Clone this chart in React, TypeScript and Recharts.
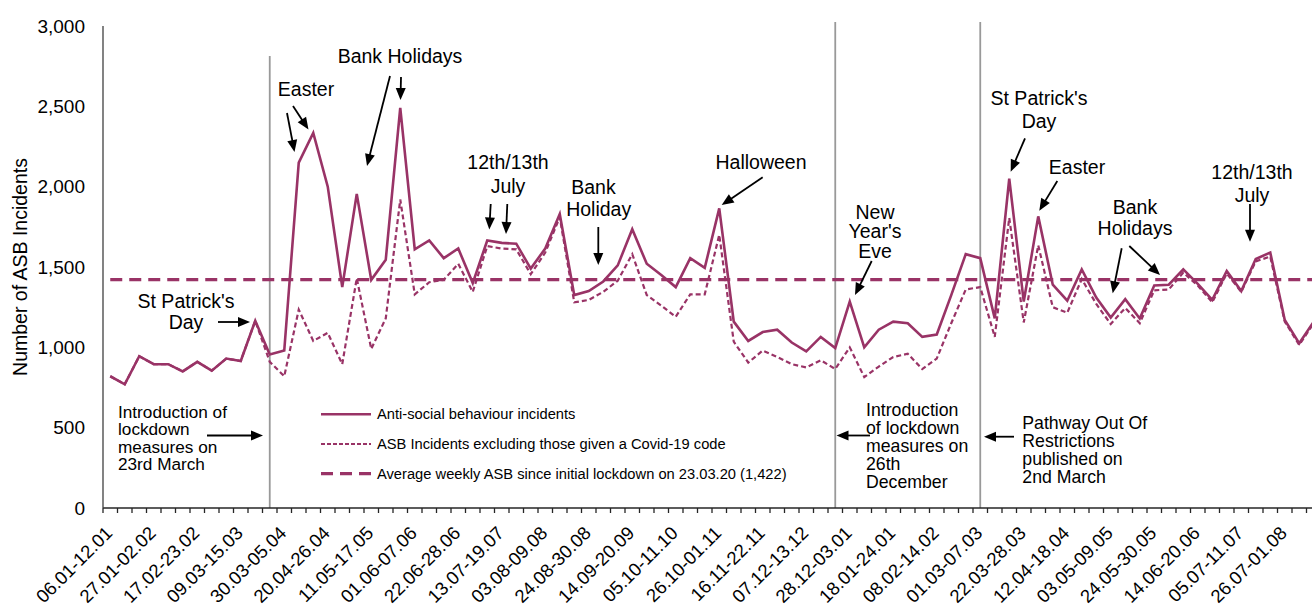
import React from 'react';
import { LineChart, Line, XAxis, YAxis, ReferenceLine, Legend } from 'recharts';

// weekly periods, 06.01.2020 to 15.08.2021
const WEEKS = [
  '06.01-12.01', '13.01-19.01', '20.01-26.01', '27.01-02.02', '03.02-09.02', '10.02-16.02',
  '17.02-23.02', '24.02-01.03', '02.03-08.03', '09.03-15.03', '16.03-22.03', '23.03-29.03',
  '30.03-05.04', '06.04-12.04', '13.04-19.04', '20.04-26.04', '27.04-03.05', '04.05-10.05',
  '11.05-17.05', '18.05-24.05', '25.05-31.05', '01.06-07.06', '08.06-14.06', '15.06-21.06',
  '22.06-28.06', '29.06-05.07', '06.07-12.07', '13.07-19.07', '20.07-26.07', '27.07-02.08',
  '03.08-09.08', '10.08-16.08', '17.08-23.08', '24.08-30.08', '31.08-06.09', '07.09-13.09',
  '14.09-20.09', '21.09-27.09', '28.09-04.10', '05.10-11.10', '12.10-18.10', '19.10-25.10',
  '26.10-01.11', '02.11-08.11', '09.11-15.11', '16.11-22.11', '23.11-29.11', '30.11-06.12',
  '07.12-13.12', '14.12-20.12', '21.12-27.12', '28.12-03.01', '04.01-10.01', '11.01-17.01',
  '18.01-24.01', '25.01-31.01', '01.02-07.02', '08.02-14.02', '15.02-21.02', '22.02-28.02',
  '01.03-07.03', '08.03-14.03', '15.03-21.03', '22.03-28.03', '29.03-04.04', '05.04-11.04',
  '12.04-18.04', '19.04-25.04', '26.04-02.05', '03.05-09.05', '10.05-16.05', '17.05-23.05',
  '24.05-30.05', '31.05-06.06', '07.06-13.06', '14.06-20.06', '21.06-27.06', '28.06-04.07',
  '05.07-11.07', '12.07-18.07', '19.07-25.07', '26.07-01.08', '02.08-08.08', '09.08-15.08',
];

const ASB_INCIDENTS = [
  820, 770, 945, 895, 895, 850, 910, 855, 930, 915, 1165, 955,
  980, 2150, 2335, 2000, 1375, 1955, 1420, 1545, 2490, 1610, 1665, 1555,
  1615, 1400, 1665, 1650, 1645, 1490, 1615, 1830, 1325, 1350, 1410, 1510,
  1735, 1520, 1450, 1375, 1555, 1495, 1865, 1160, 1040, 1095, 1110, 1030,
  975, 1065, 995, 1285, 1000, 1110, 1160, 1150, 1065, 1080, 1325, 1580,
  1555, 1180, 2050, 1285, 1815, 1390, 1290, 1485, 1310, 1185, 1300, 1180,
  1385, 1390, 1485, 1395, 1295, 1475, 1350, 1550, 1590, 1170, 1025, 1160,
];

const ASB_EXCL_COVID = [
  820, 770, 945, 895, 895, 850, 910, 855, 930, 915, 1165, 910,
  820, 1235, 1040, 1090, 895, 1430, 990, 1180, 1920, 1330, 1405, 1420,
  1520, 1345, 1630, 1615, 1610, 1455, 1590, 1810, 1280, 1295, 1345, 1415,
  1580, 1325, 1260, 1190, 1330, 1330, 1700, 1035, 905, 980, 940, 895,
  875, 920, 865, 1000, 815, 880, 940, 960, 865, 930, 1150, 1360,
  1375, 1065, 1805, 1155, 1635, 1250, 1215, 1425, 1270, 1145, 1245, 1150,
  1355, 1360, 1465, 1385, 1280, 1460, 1345, 1535, 1565, 1160, 1015, 1150,
];

const AVERAGE_SINCE_LOCKDOWN = 1422;
const Y_TICKS = [0, 500, 1000, 1500, 2000, 2500, 3000];
// weeks with a vertical marker: lockdown 23 March, lockdown 26 December, pathway 2 March
const MARKER_WEEKS = ['23.03-29.03', '21.12-27.12', '01.03-07.03'];

const PLUM = '#993366';
const FONT = '"Liberation Sans", Arial, sans-serif';
const HALF_BAND = 7.25;

const rows = WEEKS.map((week, i) => ({
  week,
  asb: ASB_INCIDENTS[i],
  asbExCovid: ASB_EXCL_COVID[i],
}));

const WeekTick = ({ x, y, index, payload }: any) => {
  const tx = x - 6;
  const ty = y + 17;
  return (
    <g>
      <line x1={x - HALF_BAND} x2={x - HALF_BAND} y1={y} y2={y + 5} stroke="#262626" strokeWidth={1.3} />
      {index % 3 === 0 && (
        <text
          x={tx}
          y={ty}
          dy="0.71em"
          transform={`rotate(-45 ${tx} ${ty})`}
          textAnchor="end"
          fontSize={18.5}
          fontFamily={FONT}
          fill="#000"
        >
          {payload.value}
        </text>
      )}
    </g>
  );
};

const LEGEND_ROWS = [
  { label: 'Anti-social behaviour incidents', dash: undefined, width: 2.5 },
  { label: 'ASB Incidents excluding those given a Covid-19 code', dash: '4 2', width: 2 },
  { label: 'Average weekly ASB since initial lockdown on 23.03.20 (1,422)', dash: '12 7', width: 3.3 },
];

const LegendBox = () => (
  <svg width={520} height={92}>
    {LEGEND_ROWS.map((r, i) => {
      const y = 14.3 + i * 29.7;
      return (
        <g key={r.label}>
          <line x1={3} x2={53} y1={y} y2={y} stroke={PLUM} strokeWidth={r.width} strokeDasharray={r.dash} />
          <text x={59} y={y} dy="0.35em" fontSize={14.7} fontFamily={FONT} fill="#000">
            {r.label}
          </text>
        </g>
      );
    })}
  </svg>
);

type Note = {
  lines: string[];
  x: number;
  y: number;
  gap?: number;
  anchor?: 'start' | 'middle';
  size?: number;
  arrows: number[][];
};

const NOTES: Note[] = [
  { lines: ["St Patrick's", 'Day'], x: 186, y: 301, gap: 21, arrows: [[218, 322, 250, 322]] },
  {
    lines: ['Introduction of', 'lockdown', 'measures on', '23rd March'],
    x: 118, y: 411.5, gap: 17.5, anchor: 'start', size: 17.2,
    arrows: [[207, 435.5, 263, 435.5]],
  },
  { lines: ['Easter'], x: 306, y: 89, arrows: [[287, 113, 294.5, 152], [293, 106, 308.5, 129.5]] },
  { lines: ['Bank Holidays'], x: 400, y: 55.7, arrows: [[390, 76, 367, 166], [401, 77, 400.5, 100]] },
  {
    lines: ['12th/13th', 'July'], x: 508, y: 162.3, gap: 23.7,
    arrows: [[490.7, 204, 489.3, 229.5], [507.3, 204, 506, 234]],
  },
  { lines: ['Bank'], x: 593.5, y: 186.7, arrows: [] },
  { lines: ['Holiday'], x: 598.7, y: 209.3, arrows: [[598.3, 227, 598.3, 265]] },
  { lines: ['Halloween'], x: 761, y: 162.3, arrows: [[762.7, 177.3, 721.7, 205]] },
  {
    lines: ['New', "Year's", 'Eve'], x: 875, y: 211.7, gap: 19.7,
    arrows: [[871.7, 261, 855, 295]],
  },
  {
    lines: ['Introduction', 'of lockdown', 'measures on', '26th', 'December'],
    x: 866, y: 410, gap: 18, anchor: 'start', size: 17.7,
    arrows: [[870, 435.5, 836.5, 435.5]],
  },
  {
    lines: ['Pathway Out Of', 'Restrictions', 'published on', '2nd March'],
    x: 1022.3, y: 423.3, gap: 17.8, anchor: 'start', size: 17.7,
    arrows: [[1014, 436.7, 984, 436.7]],
  },
  { lines: ["St Patrick's", 'Day'], x: 1039, y: 98.3, gap: 22.7, arrows: [[1025, 138.3, 1010.7, 171.7]] },
  { lines: ['Easter'], x: 1077, y: 167.3, arrows: [[1057.3, 181, 1039.3, 210.7]] },
  {
    lines: ['Bank', 'Holidays'], x: 1135, y: 207.5, gap: 20.5,
    arrows: [[1121.7, 248.3, 1112.7, 293.3], [1129.3, 246, 1160, 275]],
  },
  { lines: ['12th/13th', 'July'], x: 1252, y: 171.7, gap: 23.3, arrows: [[1250, 204, 1250, 241.7]] },
];

const Arrow = ({ a }: { a: number[] }) => {
  const [x1, y1, x2, y2] = a;
  const len = Math.hypot(x2 - x1, y2 - y1);
  const ux = (x2 - x1) / len;
  const uy = (y2 - y1) / len;
  const head = 12;
  const half = 5;
  const bx = x2 - ux * head;
  const by = y2 - uy * head;
  const pts = `${x2},${y2} ${bx - uy * half},${by + ux * half} ${bx + uy * half},${by - ux * half}`;
  return (
    <g>
      <line x1={x1} y1={y1} x2={bx + ux * 2} y2={by + uy * 2} stroke="#000" strokeWidth={1.8} />
      <polygon points={pts} fill="#000" />
    </g>
  );
};

const Annotations = () => (
  <svg
    width={1312}
    height={608}
    style={{ position: 'absolute', left: 0, top: 0, pointerEvents: 'none' }}
  >
    {NOTES.map((n, i) => (
      <g key={i}>
        {n.lines.map((t, j) => (
          <text
            key={t}
            x={n.x}
            y={n.y + j * (n.gap ?? 20)}
            dy="0.35em"
            textAnchor={n.anchor ?? 'middle'}
            fontSize={n.size ?? 19.5}
            fontFamily={FONT}
            fill="#000"
          >
            {t}
          </text>
        ))}
        {n.arrows.map((a, k) => (
          <Arrow key={k} a={a} />
        ))}
      </g>
    ))}
  </svg>
);

export default function App() {
  return (
    <div
      style={{
        position: 'absolute',
        left: 0,
        top: 0,
        width: 1312,
        height: 608,
        overflow: 'hidden',
        background: '#fff',
      }}
    >
      <LineChart width={1330} height={608} data={rows} margin={{ top: 26, right: 9, bottom: 0, left: 0 }}>
        <XAxis
          dataKey="week"
          interval={0}
          padding={{ left: HALF_BAND, right: HALF_BAND }}
          height={100}
          tickLine={false}
          tickSize={0}
          tickMargin={0}
          axisLine={{ stroke: '#262626', strokeWidth: 1.3 }}
          tick={<WeekTick />}
        />
        <YAxis
          width={103}
          domain={[0, 3000]}
          ticks={Y_TICKS}
          tickFormatter={(v: number) => v.toLocaleString('en-US')}
          tickLine={false}
          tickSize={0}
          tickMargin={18}
          axisLine={{ stroke: '#404040', strokeWidth: 1.3 }}
          tick={{ fontSize: 19, fill: '#000', fontFamily: FONT }}
          label={{
            value: 'Number of ASB Incidents',
            angle: -90,
            position: 'insideLeft',
            offset: 20,
            style: { textAnchor: 'middle', fontSize: 19.5, fill: '#000', fontFamily: FONT },
          }}
        />
        <ReferenceLine
          segment={[{ x: MARKER_WEEKS[0], y: 0 }, { x: MARKER_WEEKS[0], y: 2813 }]}
          stroke="#999"
          strokeWidth={1.8}
          ifOverflow="visible"
        />
        <ReferenceLine
          segment={[{ x: MARKER_WEEKS[1], y: 0 }, { x: MARKER_WEEKS[1], y: 3025 }]}
          stroke="#999"
          strokeWidth={1.8}
          ifOverflow="visible"
        />
        <ReferenceLine
          segment={[{ x: MARKER_WEEKS[2], y: 0 }, { x: MARKER_WEEKS[2], y: 3025 }]}
          stroke="#999"
          strokeWidth={1.8}
          ifOverflow="visible"
        />
        <ReferenceLine
          segment={[
            { x: WEEKS[0], y: AVERAGE_SINCE_LOCKDOWN },
            { x: WEEKS[WEEKS.length - 1], y: AVERAGE_SINCE_LOCKDOWN },
          ]}
          stroke={PLUM}
          strokeWidth={3.3}
          strokeDasharray="12 7"
          ifOverflow="visible"
        />
        <Line
          type="linear"
          dataKey="asbExCovid"
          stroke={PLUM}
          strokeWidth={2.2}
          strokeDasharray="5 3"
          dot={false}
          isAnimationActive={false}
        />
        <Line
          type="linear"
          dataKey="asb"
          stroke={PLUM}
          strokeWidth={2.6}
          dot={false}
          isAnimationActive={false}
        />
        <Legend
          layout="vertical"
          align="center"
          verticalAlign="middle"
          wrapperStyle={{ left: 318, top: 400, width: 520, height: 92 }}
          content={() => <LegendBox />}
        />
      </LineChart>
      <Annotations />
    </div>
  );
}
